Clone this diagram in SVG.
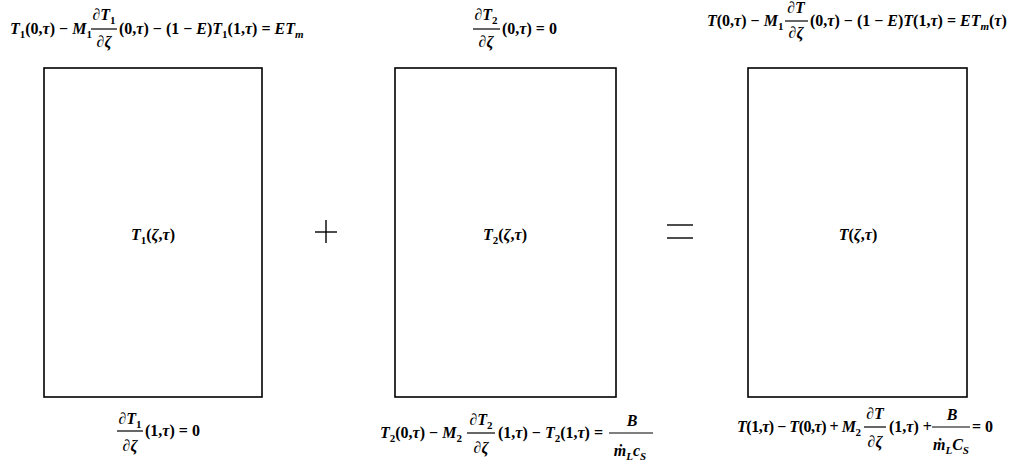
<svg xmlns="http://www.w3.org/2000/svg" width="1021" height="468" viewBox="0 0 1021 468">
<style>
.t{font-family:"Liberation Serif","Times New Roman",serif;font-size:16px;font-weight:bold;fill:#000}
.c{text-anchor:middle}
.i{font-style:italic}
.s{font-size:11px}
.box{fill:#fff;stroke:#000;stroke-width:1.6}
.fl{stroke:#000;stroke-width:1.2}
.op{stroke:#000;stroke-width:1.4}
</style>
<rect width="1021" height="468" fill="#fff"/>

<g id="node-T1">
<rect class="box" x="44" y="68" width="218" height="329"/>
<text class="t c" x="153" y="240"><tspan class="i">T</tspan><tspan class="s" dy="4">1</tspan><tspan dy="-4">(</tspan><tspan class="i">ζ</tspan>,<tspan class="i">τ</tspan>)</text>
<g id="bc-T1-top">
<text class="t" x="10" y="34"><tspan class="i">T</tspan><tspan class="s" dy="4">1</tspan><tspan dy="-4">(0,</tspan><tspan class="i">τ</tspan>) − <tspan class="i">M</tspan><tspan class="s" dy="4">1</tspan></text>
<text class="t c" x="104" y="20">∂<tspan class="i">T</tspan><tspan class="s" dy="4">1</tspan></text>
<line class="fl" x1="91" y1="29" x2="117" y2="29"/>
<text class="t c" x="104" y="47">∂<tspan class="i">ζ</tspan></text>
<text class="t" x="119" y="34">(0,<tspan class="i">τ</tspan>) − (1 − <tspan class="i">E</tspan>)<tspan class="i">T</tspan><tspan class="s" dy="4">1</tspan><tspan dy="-4">(1,</tspan><tspan class="i">τ</tspan>) = <tspan class="i">ET</tspan><tspan class="s i" dy="4">m</tspan></text>
</g>
<g id="bc-T1-bottom">
<text class="t c" x="130" y="424">∂<tspan class="i">T</tspan><tspan class="s" dy="4">1</tspan></text>
<line class="fl" x1="117" y1="431" x2="143" y2="431"/>
<text class="t c" x="130" y="451">∂<tspan class="i">ζ</tspan></text>
<text class="t" x="145" y="436">(1,<tspan class="i">τ</tspan>) = 0</text>
</g>
</g>

<g id="node-T2">
<rect class="box" x="395" y="68" width="221" height="329"/>
<text class="t c" x="505" y="240"><tspan class="i">T</tspan><tspan class="s" dy="4">2</tspan><tspan dy="-4">(</tspan><tspan class="i">ζ</tspan>,<tspan class="i">τ</tspan>)</text>
<g id="bc-T2-top">
<text class="t c" x="486" y="20">∂<tspan class="i">T</tspan><tspan class="s" dy="4">2</tspan></text>
<line class="fl" x1="473" y1="29" x2="500" y2="29"/>
<text class="t c" x="486" y="47">∂<tspan class="i">ζ</tspan></text>
<text class="t" x="502" y="34">(0,<tspan class="i">τ</tspan>) = 0</text>
</g>
<g id="bc-T2-bottom">
<text class="t" x="380" y="438"><tspan class="i">T</tspan><tspan class="s" dy="4">2</tspan><tspan dy="-4">(0,</tspan><tspan class="i">τ</tspan>) − <tspan class="i">M</tspan><tspan class="s" dy="4">2</tspan></text>
<text class="t c" x="481" y="425">∂<tspan class="i">T</tspan><tspan class="s" dy="4">2</tspan></text>
<line class="fl" x1="467" y1="433" x2="495" y2="433"/>
<text class="t c" x="481" y="453">∂<tspan class="i">ζ</tspan></text>
<text class="t" x="498" y="438">(1,<tspan class="i">τ</tspan>) − <tspan class="i">T</tspan><tspan class="s" dy="4">2</tspan><tspan dy="-4">(1,</tspan><tspan class="i">τ</tspan>) =</text>
<text class="t c i" x="632" y="426">B</text>
<line class="fl" x1="609" y1="433" x2="653" y2="433"/>
<text class="t c i" x="630" y="456">ṁ<tspan class="s" dy="4">L</tspan><tspan dy="-4">c</tspan><tspan class="s" dy="4">S</tspan></text>
</g>
</g>

<g id="node-T">
<rect class="box" x="748" y="68" width="219" height="329"/>
<text class="t c" x="858" y="240"><tspan class="i">T</tspan>(<tspan class="i">ζ</tspan>,<tspan class="i">τ</tspan>)</text>
<g id="bc-T-top">
<text class="t" x="707" y="26"><tspan class="i">T</tspan>(0,<tspan class="i">τ</tspan>) − <tspan class="i">M</tspan><tspan class="s" dy="4">1</tspan></text>
<text class="t c" x="796" y="13">∂<tspan class="i">T</tspan></text>
<line class="fl" x1="785" y1="21" x2="808" y2="21"/>
<text class="t c" x="796" y="38">∂<tspan class="i">ζ</tspan></text>
<text class="t" x="810" y="26">(0,<tspan class="i">τ</tspan>) − (1 − <tspan class="i">E</tspan>)<tspan class="i">T</tspan>(1,<tspan class="i">τ</tspan>) = <tspan class="i">ET</tspan><tspan class="s i" dy="4">m</tspan><tspan dy="-4">(</tspan><tspan class="i">τ</tspan>)</text>
</g>
<g id="bc-T-bottom">
<text class="t" x="737" y="432" textLength="124" lengthAdjust="spacing"><tspan class="i">T</tspan>(1,<tspan class="i">τ</tspan>) − <tspan class="i">T</tspan>(0,<tspan class="i">τ</tspan>) + <tspan class="i">M</tspan><tspan class="s" dy="4">2</tspan></text>
<text class="t c" x="875" y="419">∂<tspan class="i">T</tspan></text>
<line class="fl" x1="864" y1="427" x2="886" y2="427"/>
<text class="t c" x="875" y="447">∂<tspan class="i">ζ</tspan></text>
<text class="t" x="889" y="432">(1,<tspan class="i">τ</tspan>) +</text>
<text class="t c i" x="952" y="420">B</text>
<line class="fl" x1="932" y1="427" x2="970" y2="427"/>
<text class="t c i" x="951" y="450">ṁ<tspan class="s" dy="4">L</tspan><tspan dy="-4">C</tspan><tspan class="s" dy="4">S</tspan></text>
<text class="t" x="972" y="432">= 0</text>
</g>
</g>

<g id="connectors">
<line class="op" x1="315" y1="232" x2="337" y2="232"/>
<line class="op" x1="326" y1="220" x2="326" y2="243"/>
<line class="op" x1="667" y1="225" x2="693" y2="225"/>
<line class="op" x1="667" y1="238" x2="693" y2="238"/>
</g>
</svg>
